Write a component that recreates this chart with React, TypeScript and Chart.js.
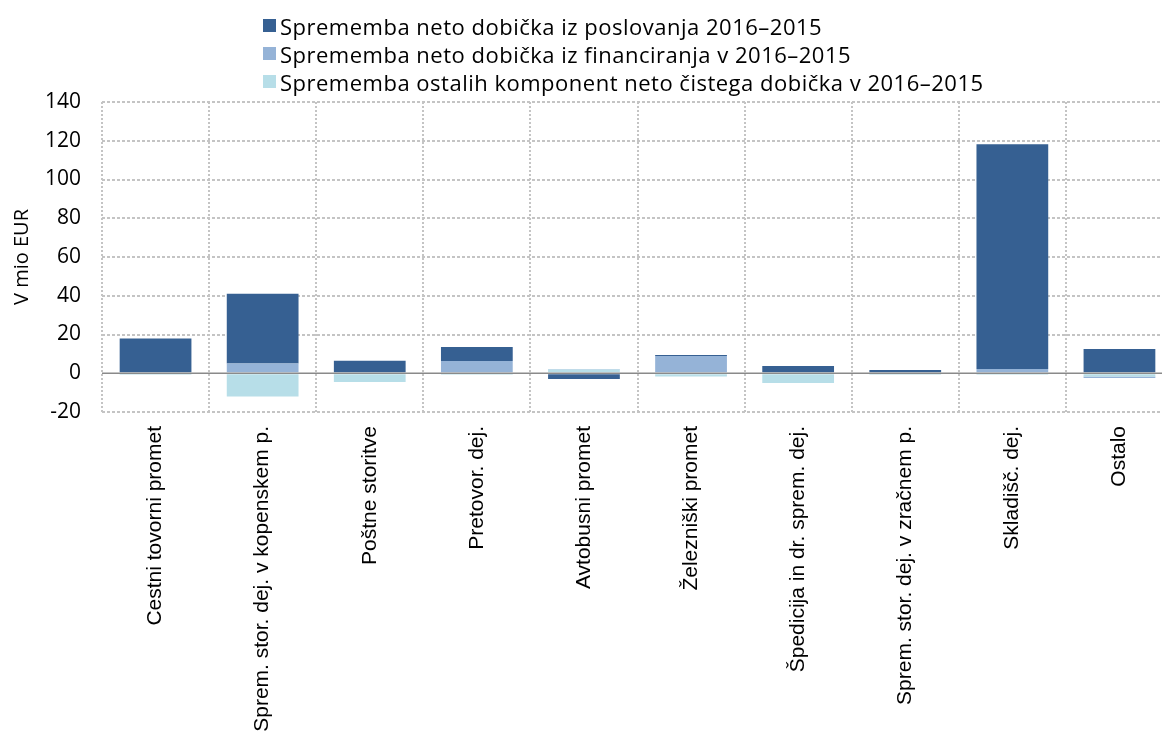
import React, { useEffect, useRef } from 'react';
import { Chart, registerables } from 'chart.js';

Chart.register(...registerables);

const categories = [
  'Cestni tovorni promet',
  'Sprem. stor. dej. v kopenskem p.',
  'Poštne storitve',
  'Pretovor. dej.',
  'Avtobusni promet',
  'Železniški promet',
  'Špedicija in dr. sprem. dej.',
  'Sprem. stor. dej. v zračnem p.',
  'Skladišč. dej.',
  'Ostalo',
];

const seriesNames = [
  'Sprememba neto dobička iz poslovanja 2016–2015',
  'Sprememba neto dobička iz financiranja v 2016–2015',
  'Sprememba ostalih komponent neto čistega dobička v 2016–2015',
];

const poslovanje = [18, 36, 6.5, 7.3, -3, 0.5, 3.8, 1.7, 116, 12.5];
const financiranje = [0, 5, 0, 6.3, 0.3, 8.9, 0, 0, 2.2, -0.7];
const ostalo = [-0.8, -12, -4.5, -0.8, 1.9, -1.7, -5, -0.8, -0.8, -1.7];

const yTickValues = [-20, 0, 20, 40, 60, 80, 100, 120, 140];
const yTitle = 'V mio EUR';

const colors = ['#366092', '#95B3D7', '#B7DEE8'];

const zeroLinePlugin = {
  id: 'zeroLine',
  afterDatasetsDraw(chart: any) {
    const { ctx, chartArea, scales } = chart;
    const y = scales.y.getPixelForValue(0);
    ctx.save();
    ctx.strokeStyle = '#8A8A8A';
    ctx.lineWidth = 1.5;
    ctx.beginPath();
    ctx.moveTo(chartArea.left, y);
    ctx.lineTo(chartArea.right, y);
    ctx.stroke();
    ctx.restore();
  },
};

export default function App() {
  const canvasRef = useRef<HTMLCanvasElement | null>(null);

  useEffect(() => {
    if (!canvasRef.current) return;
    const chart = new Chart(canvasRef.current, {
      type: 'bar',
      data: {
        labels: categories,
        datasets: [
          { label: seriesNames[2], data: ostalo, backgroundColor: colors[2] },
          { label: seriesNames[1], data: financiranje, backgroundColor: colors[1] },
          { label: seriesNames[0], data: poslovanje, backgroundColor: colors[0] },
        ],
      },
      options: {
        animation: false,
        responsive: true,
        maintainAspectRatio: false,
        layout: { padding: { top: 102, left: 0, right: 0, bottom: 0 } },
        datasets: { bar: { barPercentage: 0.67, categoryPercentage: 1 } },
        plugins: { legend: { display: false }, tooltip: { enabled: false } },
        scales: {
          x: {
            stacked: true,
            offset: true,
            grid: { offset: true, color: '#C4C4C4', lineWidth: 2, drawTicks: false },
            border: { display: false, dash: [2, 2] },
            ticks: {
              autoSkip: false,
              minRotation: 90,
              maxRotation: 90,
              padding: 14,
              color: '#000',
              font: { family: 'Liberation Sans', size: 21 },
            },
            afterFit(scale: any) {
              scale.height = 330;
              scale.paddingLeft = 0;
              scale.paddingRight = 0;
            },
          },
          y: {
            stacked: true,
            min: -20,
            max: 140,
            afterBuildTicks(scale: any) {
              scale.ticks = yTickValues.map((v) => ({ value: v }));
            },
            grid: {
              color: (c: any) => (c.tick && c.tick.value === 0 ? 'rgba(0,0,0,0)' : '#C4C4C4'),
              lineWidth: 2,
              drawTicks: false,
            },
            border: { display: false, dash: [3, 2] },
            ticks: {
              padding: 21,
              color: '#000',
              font: { family: 'Open Sans', size: 21 },
            },
            title: {
              display: true,
              text: yTitle,
              color: '#000',
              font: { family: 'Open Sans', size: 20 },
              padding: { top: 10, bottom: 0 },
            },
            afterFit(scale: any) {
              scale.width = 102;
            },
          },
        },
      },
      plugins: [zeroLinePlugin],
    });
    return () => chart.destroy();
  }, []);

  const legendOrder = [0, 1, 2];
  const rowCenters = [25.5, 53.5, 81.5];

  return (
    <div style={{ position: 'fixed', left: 0, top: 0, width: 1162, height: 742, overflow: 'hidden', background: '#fff' }}>
      <div style={{ position: 'absolute', left: 0, top: 0, width: 1173, height: 742 }}>
        <canvas ref={canvasRef} />
      </div>
      {legendOrder.map((i, k) => (
        <div
          key={i}
          style={{
            position: 'absolute',
            left: 263,
            top: rowCenters[k] - 15,
            height: 30,
            display: 'flex',
            alignItems: 'center',
            fontFamily: 'Open Sans',
            fontSize: 22,
            letterSpacing: 0.5,
            color: '#000',
            whiteSpace: 'nowrap',
          }}
        >
          <span style={{ display: 'inline-block', width: 13, height: 13, background: colors[i], marginRight: 4 }} />
          <span>{seriesNames[i]}</span>
        </div>
      ))}
    </div>
  );
}
